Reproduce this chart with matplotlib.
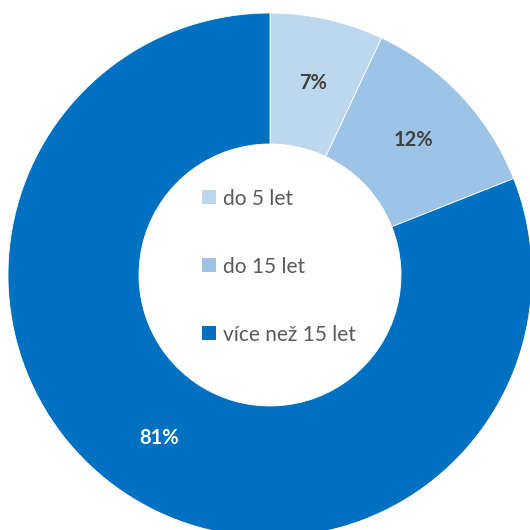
import matplotlib

matplotlib.use("Agg")
import matplotlib.pyplot as plt

labels = ["do 5 let", "do 15 let", "více než 15 let"]
values = [7, 12, 81]
colors = ["#BDD7EE", "#9DC3E6", "#0070C0"]
pct_colors = ["#404040", "#404040", "white"]

plt.rcParams["font.family"] = ["Lato", "DejaVu Sans"]

fig = plt.figure(figsize=(5.3, 5.3), dpi=100)
ax = fig.add_axes([0, 0, 1, 1])

wedges, texts, autotexts = ax.pie(
    values, colors=colors, startangle=90, counterclock=False,
    radius=1, autopct="%.0f%%", pctdistance=0.75,
    wedgeprops=dict(width=0.5, edgecolor="white", linewidth=0.6),
)
for t, c in zip(autotexts, pct_colors):
    t.set_color(c)
    t.set_fontsize(14.5)
    t.set_fontweight("bold")

ax.set_xlim(-1.0305, 0.9924)
ax.set_ylim(-0.9733, 1.0496)
ax.set_aspect("equal")
ax.axis("off")

leg = ax.legend(wedges, labels, loc="center", bbox_to_anchor=(0.527, 0.497),
                bbox_transform=fig.transFigure, frameon=False, fontsize=15,
                labelspacing=2.3, handlelength=0.65, handleheight=0.65,
                handletextpad=0.35, labelcolor="#595959")
for h in leg.legend_handles:
    h.set_linewidth(0)

fig.savefig("out.png", dpi=100)
